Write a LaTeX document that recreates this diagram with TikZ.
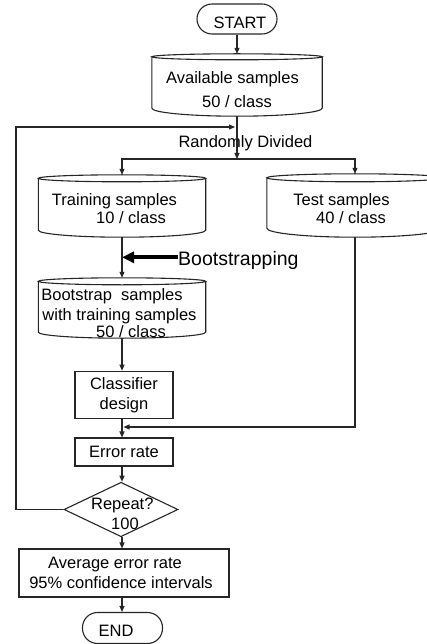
\documentclass[tikz,border=0pt]{standalone}
\usepackage{fontspec}
\setmainfont{Liberation Sans}
\usetikzlibrary{shapes.geometric,arrows.meta,calc}
\newcommand\drumshape[3]{%
  \draw[ln] let \p1=(#1.north west), \p2=(#1.south east) in
    ({(\x1+\x2)/2},{\y1-#2}) ellipse[x radius={(\x2-\x1)/2}, y radius=#2pt]
    (\x1,{\y1-#2}) -- (\x1,{\y2+#3})
    arc[start angle=180, end angle=360, x radius={(\x2-\x1)/2}, y radius=#3pt]
    -- (\x2,{\y1-#2});
}
\begin{document}
\begin{tikzpicture}[x=1pt,y=-1pt,
  ln/.style={line width=1.1pt, draw=black!85},
  arr/.style={ln, -{Triangle[length=6pt,width=5pt]}},
  bigarr/.style={line width=4pt, draw=black, -{Triangle[length=12pt,width=11pt]}},
  txt/.style={font=\fontsize{16.5}{19.5}\selectfont, inner sep=0pt, anchor=base, yshift=-5.9pt},
  drumbox/.style={rectangle, draw=none, inner sep=0pt},
  procbox/.style={ln, rectangle, inner sep=0pt, align=center, font=\fontsize{16.5}{19.5}\selectfont},
  term/.style={ln, rectangle, rounded corners=15pt, inner sep=0pt, font=\fontsize{16.5}{19.5}\selectfont, text depth=0pt},
  decision/.style={ln, diamond, inner sep=0pt}
]
\useasboundingbox (0,0) rectangle (427,644);
\clip (0,0) rectangle (427,644);

% terminals and boxes
\node[term, minimum width=80pt, minimum height=30pt, text height=19pt] (start) at (237,19) {\hspace*{6pt}START};
\node[drumbox, minimum width=170pt, minimum height=62pt] (avail) at (237,85) {};
\node[drumbox, minimum width=167pt, minimum height=62pt] (train) at (122,206) {};
\node[drumbox, minimum width=176pt, minimum height=63pt] (test) at (355,205.5) {};
\node[drumbox, minimum width=167pt, minimum height=60pt] (boot) at (122,308) {};
\node[procbox, minimum width=98pt, minimum height=47.5pt] (cls) at (124,395) {Classifier\\design};
\node[procbox, minimum width=98pt, minimum height=28pt] (err) at (124,452) {Error rate};
\node[decision, minimum width=114pt, minimum height=54.5pt] (rep) at (121,509.5) {};
\node[procbox, minimum width=210pt, minimum height=48pt] (avg) at (124,573) {Average error rate\hspace*{18pt}\\95\% confidence intervals\hspace*{6pt}};
\node[term, minimum width=80pt, minimum height=31pt, text height=16pt] (end) at (122.5,628) {END\hspace*{13pt}};

\drumshape{avail}{3}{8}
\drumshape{train}{3.5}{7}
\drumshape{test}{4}{9}
\drumshape{boot}{3.5}{6}

% texts in drums
\node[txt] (avail1) at (232.5,78) {Available samples};
\node[txt] (avail2) at (237,102) {50 / class};
\node[txt] (train1) at (114.5,200) {Training samples};
\node[txt] (train2) at (131,218) {10 / class};
\node[txt] (test1) at (341.5,200) {Test samples};
\node[txt] (test2) at (351,218) {40 / class};
\node[txt] (boot1) at (112,295) {Bootstrap\ \ samples};
\node[txt] (boot2) at (119.5,315) {with training samples};
\node[txt] (boot3) at (131,332) {50 / class};
\node[txt] (rep1) at (122.3,504) {Repeat?};
\node[txt] (rep2) at (125,524) {100};
\node[txt] (rd) at (245.5,142) {Randomly Divided};
\node[font=\fontsize{19.5}{23}\selectfont, inner sep=0pt, anchor=base west] (bs) at (178,265) {Bootstrapping};

% helper coordinates
\coordinate (split) at (237,159);
\coordinate (fbl) at (16,127);
\coordinate (fbr) at (235,127);
\coordinate (join) at (123.5,427);

% connectors
\draw[arr] (start) -- (start |- avail.north);
\draw[arr] (avail.south -| split) -- (split);
\draw[arr] (split) -| (train.north);
\draw[arr] (split) -| (test.north);
\draw[arr] (train.south) -- (boot.north);
\draw[bigarr] ([yshift=7.7pt]bs.base west) -- ([yshift=7.7pt]bs.base west -| train.south);
\draw[arr] (boot.south) -- (boot.south |- cls.north);
\draw[arr] (test.south) |- (join);
\draw[arr] (cls.south -| boot.south) -- (err.north -| boot.south);
\draw[arr] (err.south -| boot.south) -- (rep.north -| boot.south);
\draw[arr] (rep.south -| boot.south) -- (avg.north -| boot.south);
\draw[arr] (avg.south -| boot.south) -- (end.north -| boot.south);
\draw[arr] (rep.west) -| (fbl) -- (fbr);
\end{tikzpicture}
\end{document}
